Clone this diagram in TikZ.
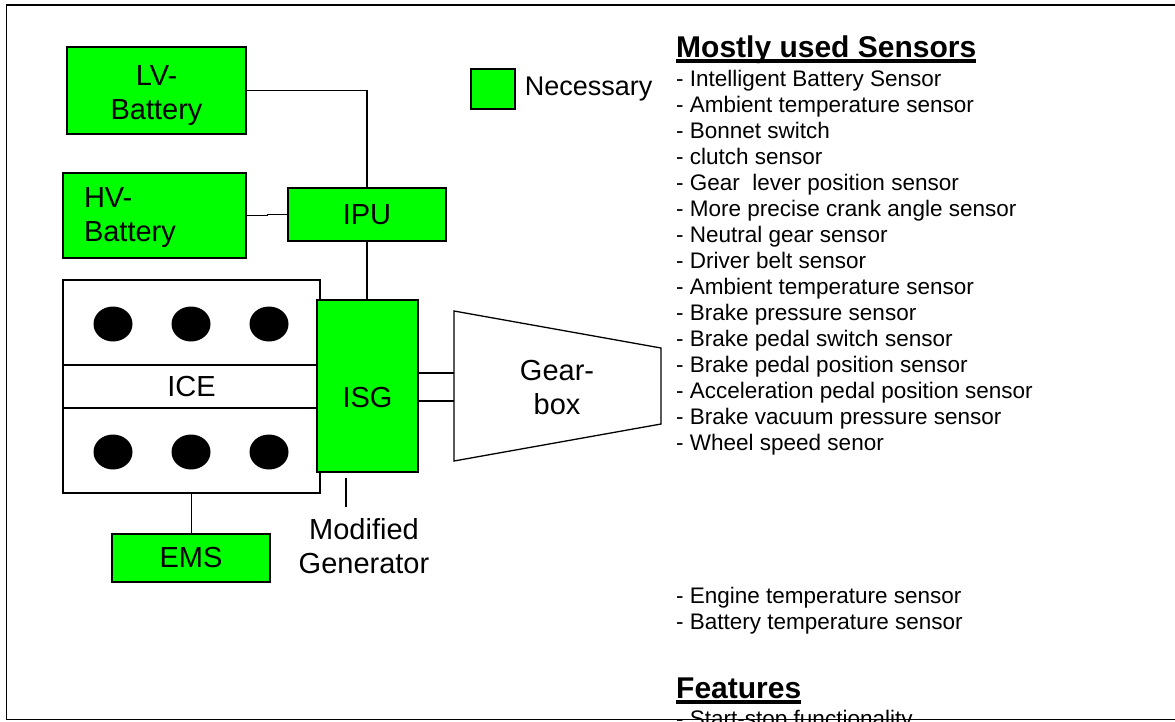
\documentclass[tikz,border=0pt]{standalone}
\usepackage{fontspec}
\setmainfont{Liberation Sans}
\usetikzlibrary{positioning}
\definecolor{necgreen}{RGB}{0,255,0}
\newcommand{\ulhead}[1]{\setbox0=\hbox{#1}\rlap{\rule[-6pt]{\wd0}{4pt}}\box0}

\begin{document}
\begin{tikzpicture}[x=1pt,y=-1pt,
      every node/.style={inner sep=0pt},
      lbl/.style={font=\fontsize{29}{34}\selectfont},
      part/.style={lbl,draw,fill=necgreen,line width=1.5pt,align=center},
      wire/.style={line width=1.3pt},
      item/.style={anchor=base west,font=\fontsize{22.5}{26}\selectfont},
      head/.style={anchor=base west,font=\fontsize{30}{34}\selectfont\bfseries}]
    \useasboundingbox (0,0) rectangle (1175,721);
    \clip (0,0) rectangle (1175,721);

    % batteries and IPU
    \node[part,minimum width=179pt,minimum height=87pt] (lv) at (156.5,90.5) {\rule{0pt}{30pt}LV-\\Battery};
    \node[part,align=left,text width=141pt,inner xsep=21pt,minimum height=85pt] (hv) at (154.5,215.5) {\rule{0pt}{25pt}HV-\\Battery};
    \node[part,minimum width=158pt,minimum height=53pt] (ipu) at (367,214.5) {IPU};
    \draw[wire] (lv) -| (ipu);
    \draw[wire] (hv.east) -- ++(21,0) |- (ipu.west);

    % legend
    \node[part,minimum width=44pt,minimum height=40pt] (leg) at (493,89) {};
    \node[right=9pt of leg,font=\fontsize{27}{31}\selectfont] (necessary) {Necessary};

    % engine
    \node[lbl,draw,line width=1.3pt,minimum width=257pt,minimum height=213pt] (ice) at (191.5,386.5) {ICE};
    \draw[wire] ([yshift=21.5pt]ice.west) -- ([yshift=21.5pt]ice.east);
    \draw[wire] ([yshift=-21.5pt]ice.west) -- ([yshift=-21.5pt]ice.east);
    \foreach \cx in {113,191,269} {
      \fill (\cx,324) ellipse [x radius=19.5pt,y radius=17.5pt];
      \fill (\cx,452) ellipse [x radius=19.5pt,y radius=17.5pt];
    }
    \node[part,minimum width=158pt,minimum height=48pt] (ems) at (191,558) {EMS};
    \draw[wire] (ice.south) -- (ice.south |- ems.north);

    % ISG
    \node[part,minimum width=101pt,minimum height=172pt,text height=42pt,text depth=0pt] (isg) at (367.5,386) {ISG};
    \draw[wire] (ipu.south) -- (ipu.south |- isg.north);
    \draw[wire] ([xshift=-21.5pt,yshift=-5pt]isg.south) -- ([xshift=-21.5pt,yshift=-34pt]isg.south);
    \node[lbl,align=center] (modgen) at (364,546) {Modified\\Generator};

    % gearbox
    \coordinate (gbtl) at (454,311);
    \coordinate (gbtr) at (661,348);
    \coordinate (gbbr) at (661,424);
    \coordinate (gbbl) at (454,461);
    \draw[wire] (gbtl) -- (gbtr) -- (gbbr) -- (gbbl) -- cycle;
    \node[lbl,align=center] (gear) at (557,387.5) {Gear-\\box};
    \draw[wire] ([yshift=13pt]isg.east) -- ([yshift=13pt]isg.east -| gbtl);
    \draw[wire] ([yshift=-15pt]isg.east) -- ([yshift=-15pt]isg.east -| gbtl);

    % sensors
    \node[head] (sensors) at (676,57) {\ulhead{Mostly used Sensors}};
    \foreach \s [count=\i] in {Intelligent Battery Sensor,Ambient temperature sensor,
        Bonnet switch,clutch sensor,Gear\ \ lever position sensor,
        More precise crank angle sensor,Neutral gear sensor,Driver belt sensor,
        Ambient temperature sensor,Brake pressure sensor,Brake pedal switch sensor,
        Brake pedal position sensor,Acceleration pedal position sensor,
        Brake vacuum pressure sensor,Wheel speed senor}
      \node[item] (s\i) at (676,60+26*\i) {- \s};
    \node[item] (s16) at (676,603) {- Engine temperature sensor};
    \node[item] (s17) at (676,629) {- Battery temperature sensor};

    % features
    \node[head] (features) at (676,698) {\ulhead{Features}};
    \node[item] (s18) at (676,726) {- Start-stop functionality};

    % frame
    \draw[line width=1.6pt] (1180,5) -- (6.5,5) -- (6.5,719.5) -- (1180,719.5);
  \end{tikzpicture}
\end{document}
